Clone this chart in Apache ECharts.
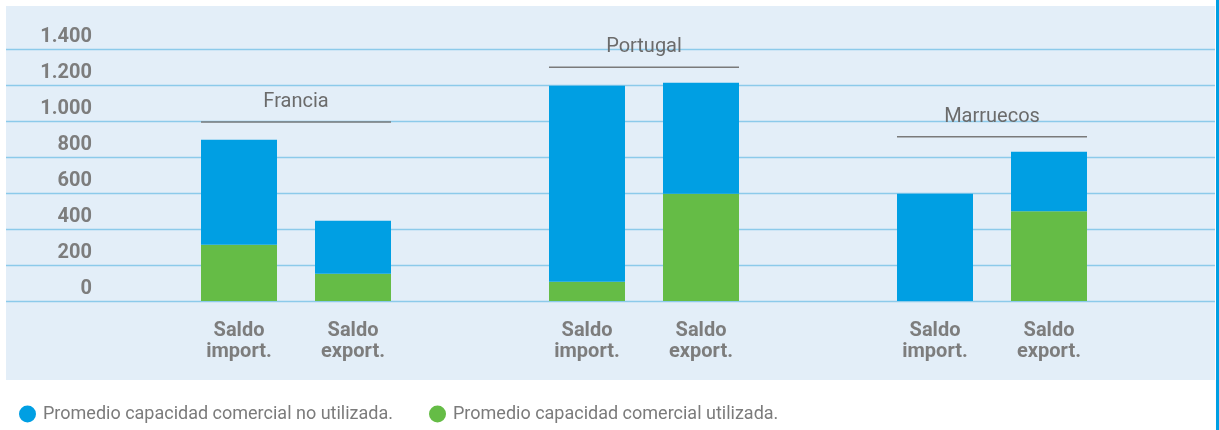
<!DOCTYPE html>
<html>
<head>
<meta charset="utf-8">
<script src="https://cdn.jsdelivr.net/npm/echarts@6/dist/echarts.min.js"></script>
<style>
  html, body { margin: 0; padding: 0; background: #fff; }
</style>
</head>
<body>
<div id="saldoChart" style="width: 1219px; height: 430px;"></div>
<script>
  // promedio por frontera, MW
  let fronteras = ["Francia", "Portugal", "Marruecos"];
  let importUsada = [313, 107, 0];
  let importLibre = [583, 1089, 596];
  let exportUsada = [152, 596, 498];
  let exportLibre = [294, 617, 331];
  // altura de la raya con el nombre de la frontera
  let tituloNivel = [994, 1298, 913];

  let gris = "#7d7d7d";
  let azul = "#009fe3";
  let verde = "#65bc46";
  let nombreLibre = "Promedio capacidad comercial no utilizada.";
  let nombreUsada = "Promedio capacidad comercial utilizada.";

  function miles(v) {
    return String(v).replace(/\B(?=(\d{3})+(?!\d))/g, ".");
  }

  let option = {
    backgroundColor: "#fff",
    animation: false,
    textStyle: { fontFamily: "Roboto" },
    graphic: [
      {
        type: "rect", left: 6, top: 6, z: -10, silent: true,
        shape: { width: 1209, height: 374 },
        style: { fill: "#e3eef8" }
      },
      {
        type: "rect", left: 1216, top: 0, z: -10, silent: true,
        shape: { width: 3, height: 430 },
        style: { fill: azul }
      }
    ],
    legend: {
      left: 14,
      top: 400,
      itemWidth: 17,
      itemHeight: 17,
      itemGap: 36,
      icon: "circle",
      data: [nombreLibre, nombreUsada],
      textStyle: { fontSize: 18, color: "#7b7b7b", padding: [0, 0, 0, 2], fontFamily: "Roboto" }
    },
    grid: [
      // rejilla de fondo, ancho completo
      { left: 6, right: 4, top: 49, bottom: 129 },
      // barras
      { left: 122, right: 53, top: 49, bottom: 129 }
    ],
    xAxis: [
      { gridIndex: 0, type: "value", min: 0, max: 1, show: false },
      {
        gridIndex: 1,
        type: "category",
        data: fronteras,
        axisLine: { show: false },
        axisTick: { show: false },
        axisLabel: {
          margin: 19,
          formatter: function () {
            return "{a|Saldo}{a|Saldo}\n{a|import.}{a|export.}";
          },
          rich: {
            a: { width: 114, align: "center", fontSize: 20, fontWeight: "bold", color: gris, lineHeight: 21, fontFamily: "Roboto" }
          }
        }
      }
    ],
    yAxis: [
      {
        gridIndex: 0,
        type: "value",
        min: 0,
        max: 1400,
        interval: 200,
        axisLine: { show: false },
        axisTick: { show: false },
        splitLine: { lineStyle: { color: "#8ccaea", width: 1.3 } },
        axisLabel: {
          inside: true,
          margin: 86,
          align: "right",
          verticalAlign: "bottom",
          lineHeight: 20,
          padding: [0, 0, 2, 0],
          fontSize: 20,
          fontWeight: "bold",
          color: gris,
          fontFamily: "Roboto",
          formatter: miles
        }
      },
      { gridIndex: 1, type: "value", min: 0, max: 1400, interval: 200, show: false }
    ],
    series: [
      {
        name: nombreUsada, type: "bar", stack: "imp", xAxisIndex: 1, yAxisIndex: 1,
        barWidth: 76, barGap: "50%", itemStyle: { color: verde }, data: importUsada
      },
      {
        name: nombreLibre, type: "bar", stack: "imp", xAxisIndex: 1, yAxisIndex: 1,
        barWidth: 76, barGap: "50%", itemStyle: { color: azul }, data: importLibre
      },
      {
        name: nombreUsada, type: "bar", stack: "exp", xAxisIndex: 1, yAxisIndex: 1,
        barWidth: 76, barGap: "50%", itemStyle: { color: verde }, data: exportUsada
      },
      {
        name: nombreLibre, type: "bar", stack: "exp", xAxisIndex: 1, yAxisIndex: 1,
        barWidth: 76, barGap: "50%", itemStyle: { color: azul }, data: exportLibre
      },
      {
        // nombre de la frontera con raya encima de las dos barras
        type: "custom",
        xAxisIndex: 1,
        yAxisIndex: 1,
        silent: true,
        z: 5,
        data: tituloNivel.map((v, i) => [i, v]),
        renderItem: function (params, api) {
          let p = api.coord([api.value(0), api.value(1)]);
          let half = api.size([1, 0])[0] * 0.273;
          return {
            type: "group",
            children: [
              {
                type: "line",
                shape: { x1: p[0] - half, y1: p[1], x2: p[0] + half, y2: p[1] },
                style: { stroke: "#7a7a7a", lineWidth: 1.5 }
              },
              {
                type: "text",
                style: {
                  text: fronteras[params.dataIndex],
                  x: p[0],
                  y: p[1] - 20,
                  align: "center",
                  verticalAlign: "middle",
                  font: "20px Roboto",
                  fill: "#6b6b6b"
                }
              }
            ]
          };
        }
      }
    ]
  };

  let myChart = echarts.init(document.getElementById("saldoChart"));
  myChart.setOption(option);
</script>
</body>
</html>
